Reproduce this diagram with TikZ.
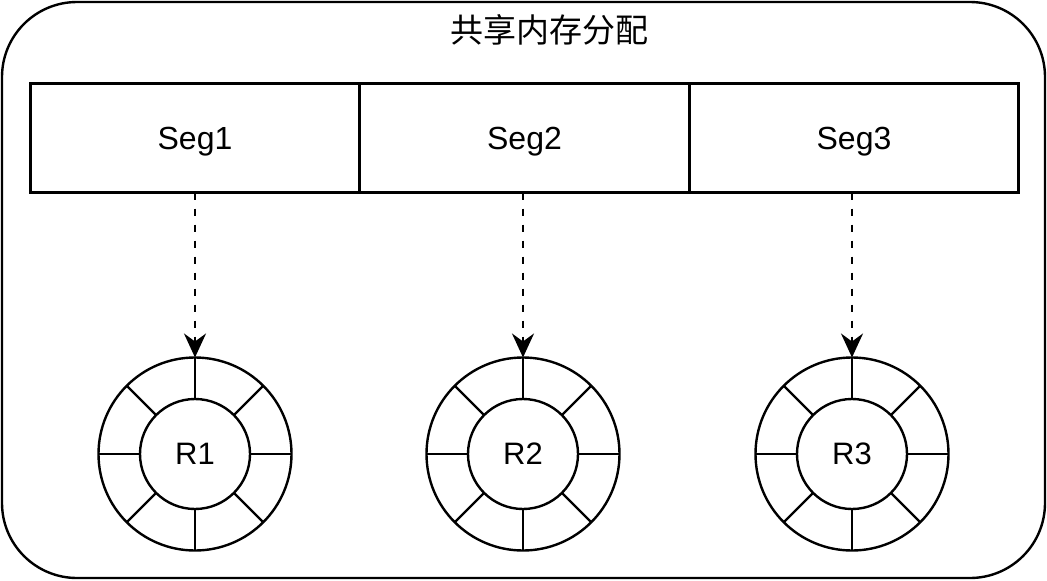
\documentclass[tikz,border=0pt]{standalone}
\usepackage{fontspec}
\setmainfont{Liberation Sans}
\newfontfamily\cjk{Noto Sans CJK SC}
\usetikzlibrary{arrows.meta}
\begin{document}
\begin{tikzpicture}[x=1pt,y=-1pt,
  ln/.style={line width=2.4pt, draw=black},
  segbox/.style={ln, rectangle, minimum width=329pt, minimum height=109pt, inner sep=0pt, outer sep=0pt, text depth=0pt, font=\fontsize{32}{38}\selectfont},
  ringin/.style={ln, circle, minimum size=110pt, inner sep=0pt, outer sep=0pt, font=\fontsize{31}{36}\selectfont},
  ringout/.style={ln, circle, minimum size=193pt, inner sep=0pt, outer sep=0pt},
  spoke/.style={ln},
  darrow/.style={line width=2.4pt, dash pattern=on 7pt off 9pt, -{Stealth[length=24pt, width=22pt, inset=8pt]}}
]
\useasboundingbox (0,0) rectangle (1047,581);
\draw[ln, rounded corners=75pt] (2,2) rectangle (1045,578);
\node[font=\cjk\fontsize{33}{38}\selectfont] (title) at (549,30) {共享内存分配};

\node[segbox] (seg1) at (195,138) {Seg1};
\node[segbox] (seg2) at (524.5,138) {Seg2};
\node[segbox] (seg3) at (854,138) {Seg3};

\foreach \i/\cx in {1/195,2/523,3/852}{
  \node[ringout] (r\i o) at (\cx,454) {};
  \node[ringin] (r\i) at (\cx,454) {R\i};
  \foreach \a in {0,45,...,315}{
    \draw[spoke] (r\i.\a) -- (r\i o.\a);
  }
  \draw[darrow] (r\i o.north |- seg\i.south) -- (r\i o.north);
}
\end{tikzpicture}
\end{document}
